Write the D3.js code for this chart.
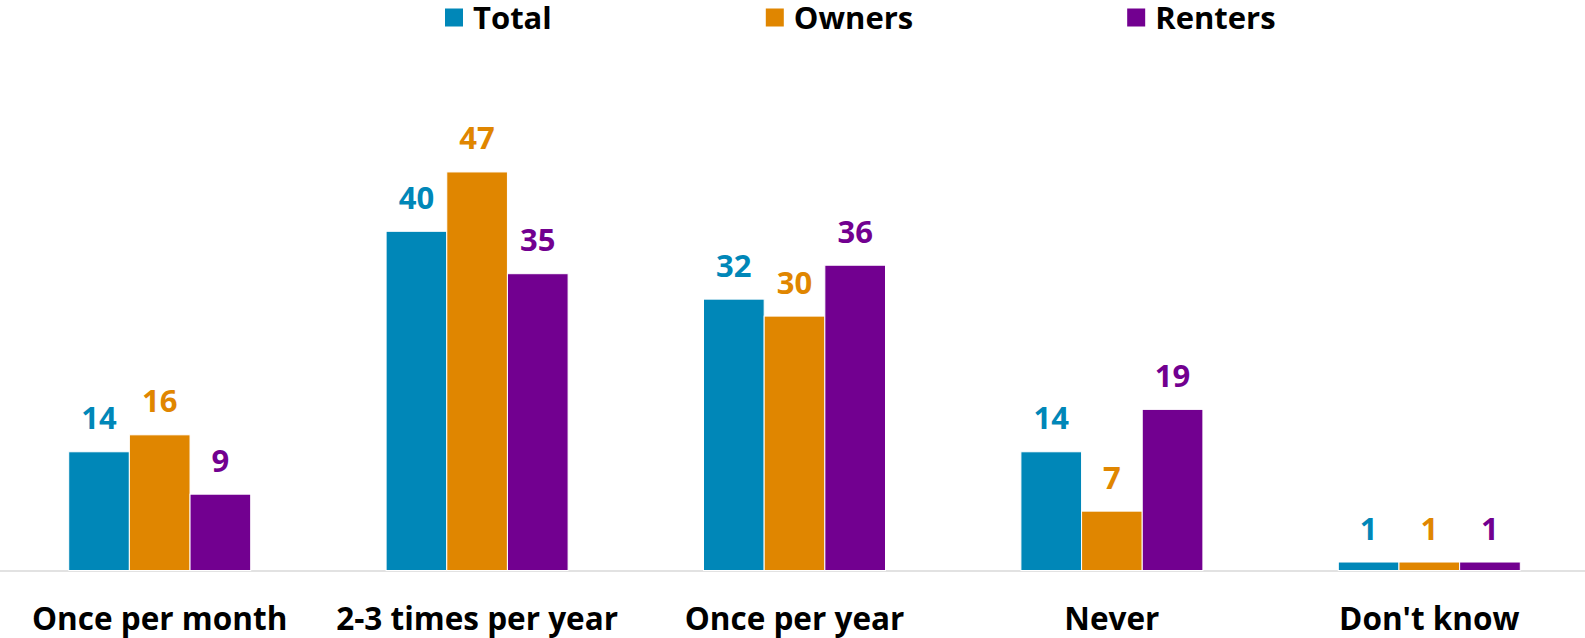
<!DOCTYPE html>
<html>
<head>
<meta charset="utf-8">
<script src="https://cdn.jsdelivr.net/npm/d3@7"></script>
<style>
  html, body { margin: 0; padding: 0; background: #fff; }
  svg { display: block; }
  text { font-family: "Open Sans", sans-serif; font-weight: bold; }
</style>
</head>
<body>
<svg id="chart" width="1585" height="638"></svg>
<script>
const categories = ["Once per month", "2-3 times per year", "Once per year", "Never", "Don't know"];
const seriesNames = ["Total", "Owners", "Renters"];
const totalValues = [14, 40, 32, 14, 1];
const ownersValues = [16, 47, 30, 7, 1];
const rentersValues = [9, 35, 36, 19, 1];
const seriesColors = ["#0087b8", "#e08600", "#720090"];

const seriesValues = [totalValues, ownersValues, rentersValues];
const W = 1585, H = 638;
const svg = d3.select("#chart");

const baseline = 570.5;
const x0 = d3.scaleBand().domain(categories).range([1, 1588]).paddingInner(0).paddingOuter(0);
const groupW = 182;
const x1 = d3.scaleBand().domain(seriesNames).range([0, groupW]).padding(0);
const y = d3.scaleLinear().domain([0, 50]).range([baseline, baseline - 424]);

// axis line
svg.append("line")
  .attr("x1", 0).attr("x2", W)
  .attr("y1", baseline + 0.5).attr("y2", baseline + 0.5)
  .attr("stroke", "#d9d9d9").attr("stroke-width", 1.5);

const groups = svg.selectAll("g.grp")
  .data(categories)
  .join("g")
  .attr("class", "grp")
  .attr("transform", d => `translate(${x0(d) + x0.bandwidth() / 2 - groupW / 2},0)`);

seriesNames.forEach((s, si) => {
  groups.append("rect")
    .attr("x", x1(s))
    .attr("y", (d, i) => y(seriesValues[si][i]))
    .attr("width", x1.bandwidth())
    .attr("height", (d, i) => baseline - y(seriesValues[si][i]))
    .attr("fill", seriesColors[si])
    .attr("stroke", "#fff")
    .attr("stroke-width", 1);
  groups.append("text")
    .attr("x", x1(s) + x1.bandwidth() / 2)
    .attr("y", (d, i) => y(seriesValues[si][i]) - 22.5)
    .attr("text-anchor", "middle")
    .attr("font-size", 31)
    .attr("fill", seriesColors[si])
    .text((d, i) => seriesValues[si][i]);
});

// category labels
svg.append("g").selectAll("text")
  .data(categories)
  .join("text")
  .attr("x", d => x0(d) + x0.bandwidth() / 2)
  .attr("y", 630)
  .attr("text-anchor", "middle")
  .attr("font-size", 31.5)
  .attr("fill", "#000")
  .text(d => d);

// legend
const legend = svg.append("g");
let lx = 445;
seriesNames.forEach((s, i) => {
  legend.append("rect")
    .attr("x", lx).attr("y", 8.5)
    .attr("width", 18).attr("height", 18)
    .attr("fill", seriesColors[i]);
  const t = legend.append("text")
    .attr("x", lx + 28).attr("y", 28.5)
    .attr("font-size", 31)
    .attr("fill", "#000")
    .text(s);
  lx += 28 + t.node().getComputedTextLength() + 214;
});
</script>
</body>
</html>
